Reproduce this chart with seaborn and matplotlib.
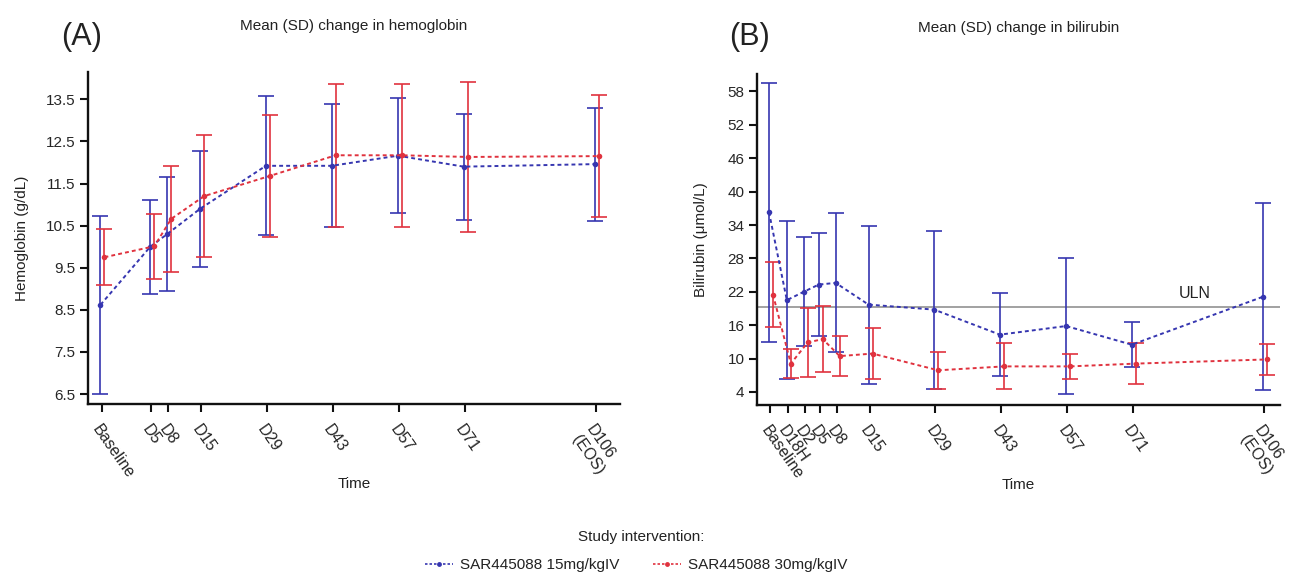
import numpy as np
import pandas as pd
import matplotlib
matplotlib.use("Agg")
import matplotlib.pyplot as plt
from matplotlib.lines import Line2D
import seaborn as sns

# panel A - hemoglobin
visits_a = ["Baseline", "D5", "D8", "D15", "D29", "D43", "D57", "D71", "D106\n(EOS)"]
time_a = [0, 10.6, 14.2, 21.2, 35.2, 49.2, 63.3, 77.3, 105.2]
hgb_15_mean = [8.62, 10.0, 10.3, 10.9, 11.92, 11.92, 12.16, 11.9, 11.96]
hgb_15_sd = [2.12, 1.12, 1.35, 1.38, 1.65, 1.46, 1.36, 1.26, 1.34]
hgb_30_mean = [9.75, 10.01, 10.66, 11.2, 11.68, 12.17, 12.17, 12.13, 12.15]
hgb_30_sd = [0.66, 0.77, 1.25, 1.44, 1.45, 1.7, 1.7, 1.78, 1.45]

# panel B - bilirubin
visits_b = ["Baseline", "D18H", "D2", "D5", "D8", "D15", "D29", "D43", "D57", "D71", "D106\n(EOS)"]
time_b = [0, 3.8, 7.4, 10.6, 14.2, 21.2, 35.2, 49.2, 63.3, 77.3, 105.2]
bili_15_mean = [36.3, 20.5, 22.0, 23.3, 23.6, 19.7, 18.8, 14.3, 15.85, 12.5, 21.1]
bili_15_sd = [23.3, 14.2, 9.8, 9.2, 12.5, 14.2, 14.2, 7.45, 12.2, 4.0, 16.8]
bili_30_mean = [21.5, 9.1, 12.9, 13.5, 10.45, 10.9, 7.9, 8.6, 8.6, 9.1, 9.85]
bili_30_sd = [5.9, 2.6, 6.15, 5.9, 3.65, 4.55, 3.35, 4.15, 2.3, 3.65, 2.84]
uln = 19.2

groups = ["SAR445088 15mg/kgIV", "SAR445088 30mg/kgIV"]
colors = {groups[0]: "#3636b0", groups[1]: "#e0323e"}
shift = {groups[0]: -0.25, groups[1]: 0.6}

sns.set_style("white")
plt.rcParams["font.family"] = ["Liberation Sans", "DejaVu Sans"]
plt.rcParams["text.color"] = "#222222"
plt.rcParams["axes.labelcolor"] = "#222222"

fig = plt.figure(figsize=(12.91, 5.75), dpi=100)
ax_a = fig.add_axes([0.0682, 0.297, 0.412, 0.578])
ax_b = fig.add_axes([0.5864, 0.296, 0.405, 0.576])


def draw_panel(ax, times, m15, s15, m30, s30):
    df = pd.DataFrame({
        "time": list(times) * 2,
        "mean": list(m15) + list(m30),
        "sd": list(s15) + list(s30),
        "group": [groups[0]] * len(times) + [groups[1]] * len(times),
    })
    df["x"] = df["time"] + df["group"].map(shift)
    for g, sub in df.groupby("group"):
        ax.errorbar(sub["x"], sub["mean"], yerr=sub["sd"], fmt="none",
                    ecolor=colors[g], elinewidth=1.2, capsize=5.5, capthick=1.2,
                    zorder=2)
    sns.lineplot(data=df, x="x", y="mean", hue="group", palette=colors,
                 marker="o", markersize=4, markeredgewidth=0,
                 linestyle=(0, (2, 1.6)), linewidth=1.4, legend=False,
                 ax=ax, zorder=3)


draw_panel(ax_a, time_a, hgb_15_mean, hgb_15_sd, hgb_30_mean, hgb_30_sd)
draw_panel(ax_b, time_b, bili_15_mean, bili_15_sd, bili_30_mean, bili_30_sd)

ax_b.axhline(uln, color="#9a9a9a", linewidth=1.3, zorder=1)
ax_b.text(93.8, uln + 1.1, "ULN", ha="right", va="bottom", fontsize=11.5)

for ax, times, visits in [(ax_a, time_a, visits_a), (ax_b, time_b, visits_b)]:
    ax.set_xticks(times)
    ax.set_xticklabels(visits, rotation=-55, ha="left", va="top",
                       rotation_mode="anchor", fontsize=11.5)
    ax.set_xlabel("Time", fontsize=11, labelpad=-3)
    sns.despine(ax=ax)
    for s in ["left", "bottom"]:
        ax.spines[s].set_linewidth(1.7)
        ax.spines[s].set_color("#111111")
    ax.tick_params(axis="both", direction="out", length=6, width=1.5,
                   color="#111111", labelsize=11, left=True, bottom=True, pad=3)
    ax.tick_params(axis="x", pad=7, labelsize=11.5)

ax_a.set_xlim(-2.9, 110.3)
ax_a.set_ylim(6.26, 14.15)
ax_a.set_yticks(np.arange(6.5, 14.0, 1.0))
ax_a.set_yticklabels([f"{v:.1f}" for v in np.arange(6.5, 14.0, 1.0)])
ax_a.set_ylabel("Hemoglobin (g/dL)", fontsize=11, labelpad=12)

ax_b.set_xlim(-2.8, 108.6)
ax_b.set_ylim(1.7, 61.2)
ax_b.set_yticks(np.arange(4, 59, 6))
ax_b.set_ylabel("Bilirubin (μmol/L)", fontsize=11, labelpad=14)

ax_a.set_title("Mean (SD) change in hemoglobin", fontsize=11, pad=0, y=1.125)
ax_b.set_title("Mean (SD) change in bilirubin", fontsize=11, pad=0, y=1.125)
fig.text(61 / 1291, 1 - 37 / 575, "(A)", fontsize=22, va="center", ha="left")
fig.text(729 / 1291, 1 - 37 / 575, "(B)", fontsize=22, va="center", ha="left")

fig.text(0.497, 1 - 537 / 575, "Study intervention:", fontsize=11,
         ha="center", va="center")
handles = [Line2D([], [], color=colors[g], linestyle=(0, (1.5, 1.2)), linewidth=1.2,
                  marker="o", markersize=3.5, markeredgewidth=0) for g in groups]
fig.legend(handles, groups, loc="center", bbox_to_anchor=(0.493, 1 - 565 / 575),
           ncol=2, frameon=False, fontsize=11, handlelength=1.8,
           columnspacing=2.2, handletextpad=0.5, borderpad=0)

fig.savefig("out.png", dpi=100)
